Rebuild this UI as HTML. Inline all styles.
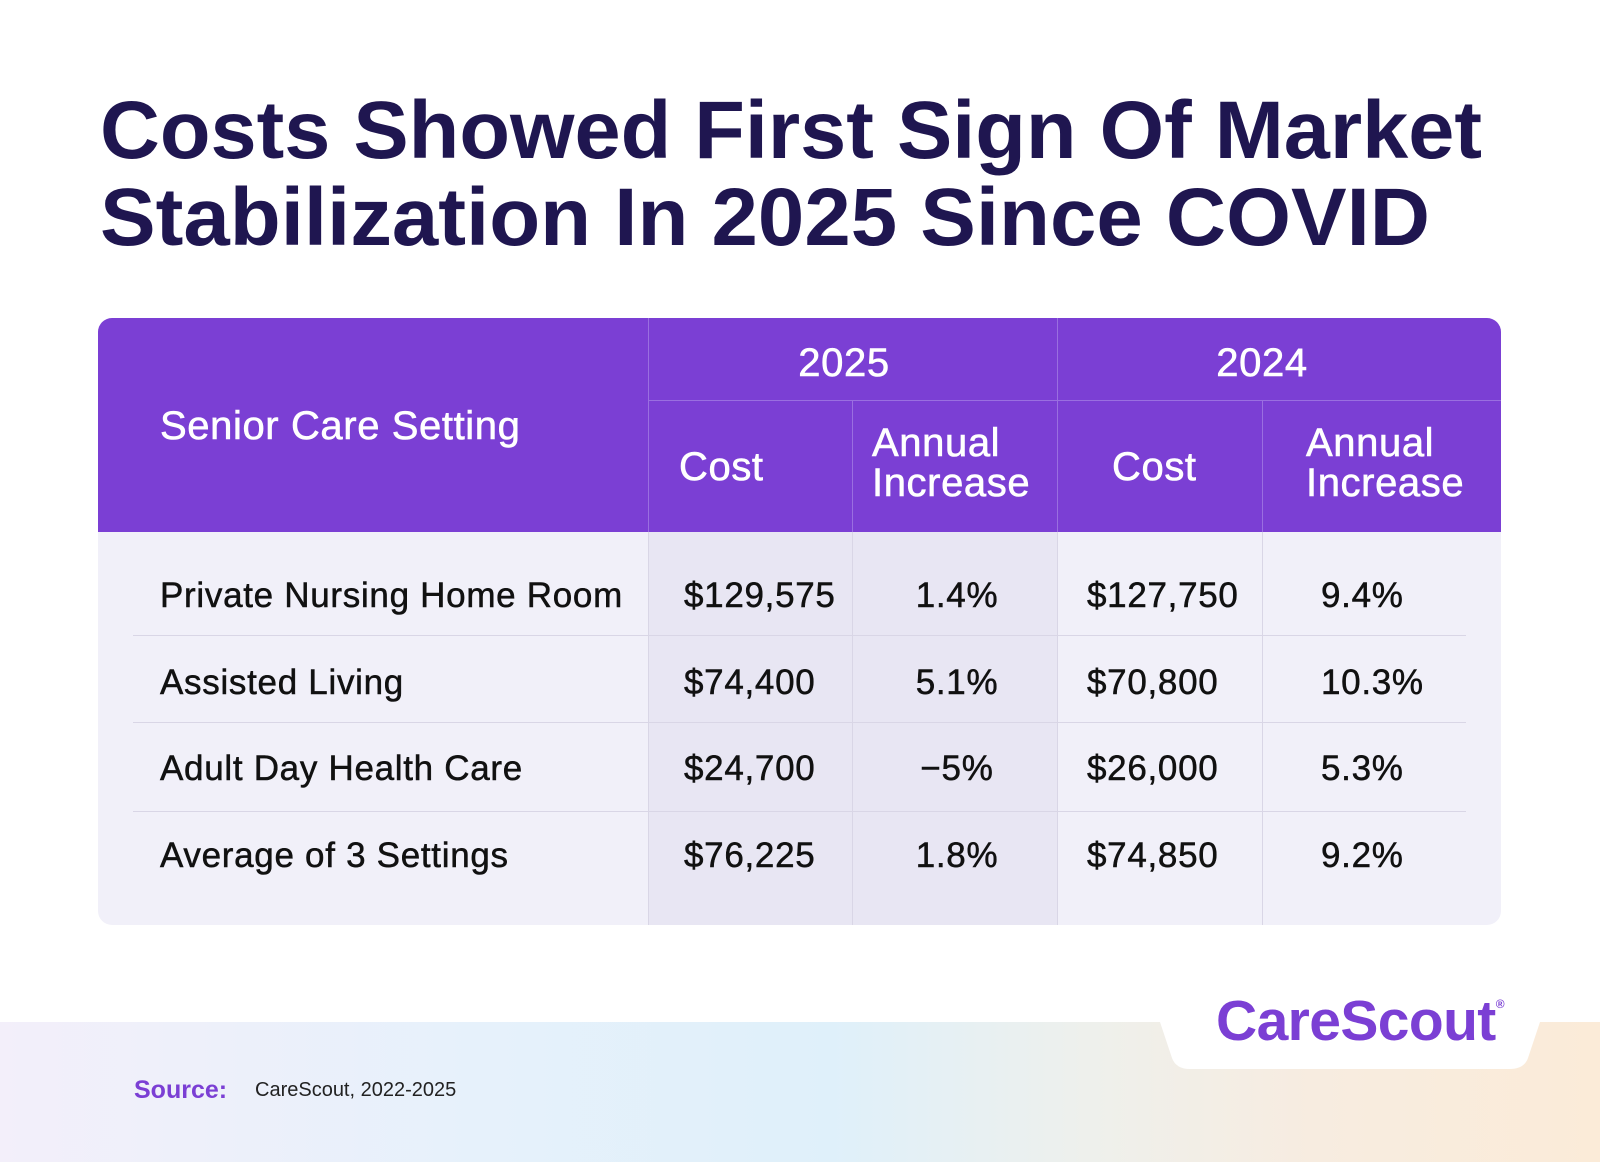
<!DOCTYPE html>
<html><head><meta charset="utf-8">
<style>
body{margin:0;width:1600px;height:1162px;overflow:hidden;background:#fff;font-family:"Liberation Sans",sans-serif;position:relative}
.a{position:absolute}
.t{position:absolute;white-space:nowrap}
.hd{color:#fff;font-size:40px;-webkit-text-stroke:0.6px #fff;letter-spacing:0.6px}
.bd{color:#111;font-size:35px;-webkit-text-stroke:0.5px #111;letter-spacing:0.7px}
</style></head>
<body>
<svg class="a" style="left:0;top:0" width="1600" height="270">
<text x="100" y="158" font-family="Liberation Sans, sans-serif" font-weight="bold" font-size="82" fill="#1f1650" textLength="1382" lengthAdjust="spacingAndGlyphs">Costs Showed First Sign Of Market</text>
<text x="100" y="245" font-family="Liberation Sans, sans-serif" font-weight="bold" font-size="82" fill="#1f1650" textLength="1330" lengthAdjust="spacingAndGlyphs">Stabilization In 2025 Since COVID</text>
</svg>

<div class="a" style="left:98px;top:318px;width:1403px;height:607px;border-radius:14px;overflow:hidden;background:#f1f0f9">
  <div class="a" style="left:0;top:0;width:1403px;height:214px;background:#7b3fd4"></div>
  <div class="a" style="left:550px;top:214px;width:409px;height:393px;background:#e8e6f3"></div>
</div>
<div class="a" style="left:648px;top:318px;width:1px;height:607px;background:#9a6fe0"></div>
<div class="a" style="left:1057px;top:318px;width:1px;height:214px;background:#9a6fe0"></div>
<div class="a" style="left:852px;top:400px;width:1px;height:132px;background:#9a6fe0"></div>
<div class="a" style="left:1262px;top:400px;width:1px;height:132px;background:#9a6fe0"></div>
<div class="a" style="left:648px;top:400px;width:853px;height:1px;background:#9a6fe0"></div>
<div class="a" style="left:648px;top:532px;width:1px;height:393px;background:#d9d6e6"></div>
<div class="a" style="left:852px;top:532px;width:1px;height:393px;background:#d9d6e6"></div>
<div class="a" style="left:1057px;top:532px;width:1px;height:393px;background:#d9d6e6"></div>
<div class="a" style="left:1262px;top:532px;width:1px;height:393px;background:#d9d6e6"></div>
<div class="a" style="left:133px;top:635px;width:1333px;height:1px;background:#d9d6e6"></div>
<div class="a" style="left:133px;top:722px;width:1333px;height:1px;background:#d9d6e6"></div>
<div class="a" style="left:133px;top:811px;width:1333px;height:1px;background:#d9d6e6"></div>

<div class="t hd" style="left:160px;top:404px">Senior Care Setting</div>
<div class="t hd" style="left:648px;width:392px;text-align:center;top:341px">2025</div>
<div class="t hd" style="left:1057px;width:410px;text-align:center;top:341px">2024</div>
<div class="t hd" style="left:679px;top:445px">Cost</div>
<div class="t hd" style="left:872px;top:423px;line-height:40px">Annual<br>Increase</div>
<div class="t hd" style="left:1112px;top:445px">Cost</div>
<div class="t hd" style="left:1306px;top:423px;line-height:40px">Annual<br>Increase</div>

<div id="rows"></div>
<script>
const settings=["Private Nursing Home Room","Assisted Living","Adult Day Health Care","Average of 3 Settings"];
const cost2025=["$129,575","$74,400","$24,700","$76,225"];
const inc2025=["1.4%","5.1%","\u22125%","1.8%"];
const cost2024=["$127,750","$70,800","$26,000","$74,850"];
const inc2024=["9.4%","10.3%","5.3%","9.2%"];
const rowTops=[576,663,749,836];
const host=document.getElementById('rows');
function cell(txt,left,top,name,center){
  const d=document.createElement('div');
  d.className='t bd';
  d.style.left=left+'px';d.style.top=top+'px';
  if(center){d.style.width='210px';d.style.textAlign='center';}
  d.textContent=txt;
  
  
  host.appendChild(d);
}
settings.forEach((s,i)=>{
  const y=rowTops[i];
  cell(s,160,y,'setting-label');
  cell(cost2025[i],684,y,'cost-2025');
  cell(inc2025[i],852,y,'increase-2025',true);
  cell(cost2024[i],1087,y,'cost-2024');
  cell(inc2024[i],1321,y,'increase-2024');
});
</script>

<div class="a" style="left:0;top:1022px;width:1600px;height:140px;background:linear-gradient(90deg,#f3effa 0%,#e6f1fb 30%,#dff0fa 52%,#eef0ec 68%,#f7ece0 82%,#fbebd8 100%)"></div>
<svg class="a" style="left:1160px;top:1010px" width="390" height="65"><path d="M0 12 L380 12 L368 48 Q364 59 350 59 L30 59 Q16 59 12 48 Z" fill="#fff"/></svg>
<div class="t" style="left:1216px;top:988px;font-size:57px;font-weight:bold;color:#7b3fd4;letter-spacing:-0.6px">CareScout<span style="font-size:12px;vertical-align:32px;letter-spacing:0">®</span></div>
<div class="t" style="left:134px;top:1076px;font-size:25px;font-weight:bold;color:#7b3fd4">Source:</div>
<div class="t" style="left:255px;top:1079px;font-size:20px;color:#222">CareScout, 2022-2025</div>
</body></html>
